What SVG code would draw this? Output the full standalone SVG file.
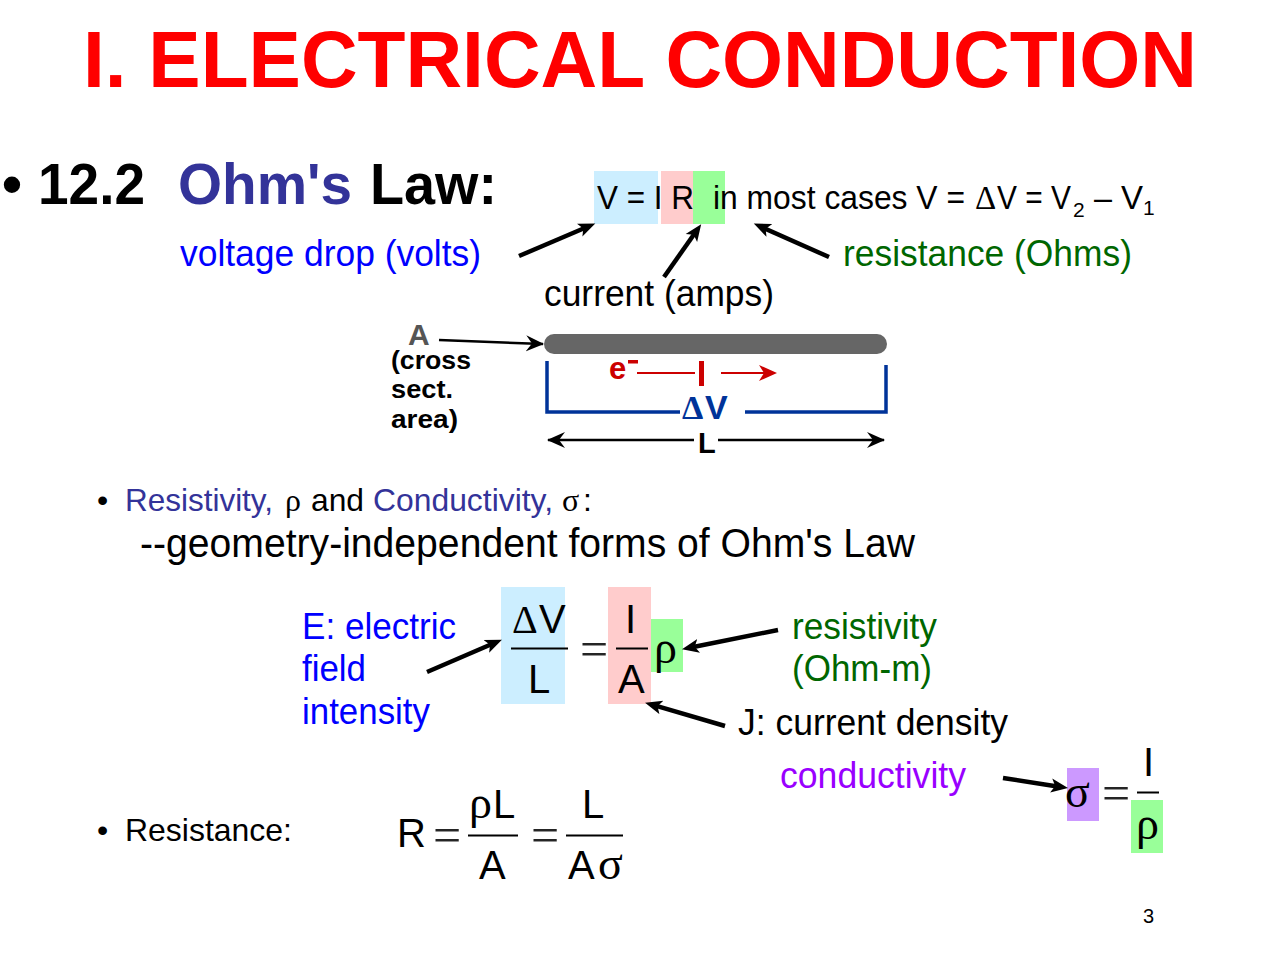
<svg xmlns="http://www.w3.org/2000/svg" width="1280" height="960" viewBox="0 0 1280 960">
<style>
text{font-family:"Liberation Sans",Arial,sans-serif;fill:#000}
.g{font-family:"Liberation Serif","Times New Roman",serif}
.b{font-weight:bold}
.t36{font-size:36px}.t40{font-size:40px}.t33{font-size:33px}.t32{font-size:32px}
.rho{font-size:46px}.eq{font-size:50px;font-weight:300;opacity:.85}
.blue{fill:#0000ff}.navy{fill:#333399}.green{fill:#006600}.purple{fill:#9900ff}
.wb{fill:#003399}.wr{fill:#cc0000}
.arr{stroke:#000;stroke-width:4.5;fill:none;marker-end:url(#ah)}
.thin{stroke:#000;stroke-width:2.500;fill:none}
.frac{stroke:#000;stroke-width:2}
</style>
<defs>
<marker id="ah" markerUnits="userSpaceOnUse" markerWidth="18" markerHeight="16" refX="8" refY="7.500" orient="auto"><path d="M0 0.500L17 7.500L0 14.500L4 7.500Z" fill="#000"/></marker>
<marker id="sm" markerUnits="userSpaceOnUse" markerWidth="20" markerHeight="18" refX="17" refY="8" orient="auto-start-reverse"><path d="M0 0L18 8L0 16L6 8Z" fill="#000"/></marker>
</defs>
<rect width="1280" height="960" fill="#fff"/>
<g id="title"><text x="83" y="87" class="b" font-size="80" textLength="1114" lengthAdjust="spacingAndGlyphs" style="fill:#ff0000">I. ELECTRICAL CONDUCTION</text></g>
<g id="heading">
<text x="2" y="204" class="b" font-size="57">•</text>
<text x="38" y="204" class="b" font-size="57" textLength="107" lengthAdjust="spacingAndGlyphs">12.2</text>
<text x="178" y="204" class="b navy" font-size="57" textLength="174" lengthAdjust="spacingAndGlyphs">Ohm's</text>
<text x="370" y="204" class="b" font-size="57" textLength="127" lengthAdjust="spacingAndGlyphs">Law:</text>
</g>
<g id="ohm-equation">
<rect x="594" y="171" width="64" height="53" fill="#cceeff"/>
<rect x="661" y="171" width="32" height="53" fill="#ffcccc"/>
<rect x="693" y="171" width="32" height="53" fill="#99ff99"/>
<text x="597" y="209" class="t33" textLength="97" lengthAdjust="spacingAndGlyphs">V = I R</text>
<text x="713" y="209" class="t33" textLength="252" lengthAdjust="spacingAndGlyphs">in most cases V =</text>
<text x="975" y="209" class="g t33">Δ</text>
<text x="997" y="209" class="t33" textLength="74" lengthAdjust="spacingAndGlyphs">V = V</text>
<text x="1073" y="217" font-size="21">2</text>
<text x="1094" y="209" class="t33" textLength="18" lengthAdjust="spacingAndGlyphs">–</text>
<text x="1121" y="209" class="t33">V</text>
<text x="1143" y="215" font-size="21">1</text>
</g>
<g id="label-voltage"><text x="180" y="266" class="t36 blue" textLength="301" lengthAdjust="spacingAndGlyphs">voltage drop (volts)</text></g>
<g id="label-resistance"><text x="843" y="266" class="t36 green" textLength="289" lengthAdjust="spacingAndGlyphs">resistance (Ohms)</text></g>
<g id="label-current"><text x="544" y="306" class="t36" textLength="230" lengthAdjust="spacingAndGlyphs">current (amps)</text></g>
<g id="wire">
<rect x="544" y="334" width="343" height="20" rx="10" fill="#666"/>
<text x="408" y="345" class="b" font-size="30" style="fill:#555">A</text>
<text x="391" y="369" class="b" font-size="25" textLength="80" lengthAdjust="spacingAndGlyphs">(cross</text>
<text x="391" y="398" class="b" font-size="25" textLength="62" lengthAdjust="spacingAndGlyphs">sect.</text>
<text x="391" y="428" class="b" font-size="25" textLength="67" lengthAdjust="spacingAndGlyphs">area)</text>
<text x="609" y="379" class="b wr" font-size="31">e</text>
<rect x="628" y="360" width="10" height="3.500" fill="#cc0000"/>
<line x1="637" y1="373" x2="695" y2="373" stroke="#cc0000" stroke-width="2"/>
<line x1="701.500" y1="361" x2="701.500" y2="386" stroke="#cc0000" stroke-width="5"/>
<line x1="721" y1="373" x2="770" y2="373" stroke="#cc0000" stroke-width="2"/>
<path d="M759 365L777 373L759 381L764 373Z" fill="#cc0000"/>
<path d="M547 361V412H680M745 412H886V365" fill="none" stroke="#003399" stroke-width="3.500"/>
<text x="682" y="419" class="g b wb" font-size="34">Δ</text>
<text x="705" y="419" class="b wb" font-size="34">V</text>
<line x1="548" y1="440" x2="694" y2="440" class="thin" marker-start="url(#sm)"/>
<line x1="718" y1="440" x2="884" y2="440" class="thin" marker-end="url(#sm)"/>
<text x="698" y="453" class="b" font-size="29">L</text>
</g>
<g id="resistivity-text">
<text x="97" y="511" class="t32">•</text>
<text x="125" y="511" class="t32 navy" textLength="148" lengthAdjust="spacingAndGlyphs">Resistivity,</text>
<text x="285" y="511" class="g t32">ρ</text>
<text x="311" y="511" class="t32" textLength="53" lengthAdjust="spacingAndGlyphs">and</text>
<text x="373" y="511" class="t32 navy" textLength="180" lengthAdjust="spacingAndGlyphs">Conductivity,</text>
<text x="562" y="511" class="g t32">σ</text>
<text x="583" y="511" class="t32">:</text>
<text x="140" y="557" font-size="40" textLength="775" lengthAdjust="spacingAndGlyphs">--geometry-independent forms of Ohm's Law</text>
</g>
<g id="label-e">
<text x="302" y="639" class="t36 blue" textLength="154" lengthAdjust="spacingAndGlyphs">E: electric</text>
<text x="302" y="681" class="t36 blue" textLength="64" lengthAdjust="spacingAndGlyphs">field</text>
<text x="302" y="724" class="t36 blue" textLength="128" lengthAdjust="spacingAndGlyphs">intensity</text>
</g>
<g id="equation-e">
<rect x="501" y="587" width="64" height="117" fill="#cceeff"/>
<rect x="608" y="587" width="43" height="117" fill="#ffcccc"/>
<rect x="651" y="619" width="32" height="53" fill="#99ff99"/>
<text x="512" y="633" class="g t40">Δ</text><text x="539" y="633" class="t40">V</text>
<line x1="511" y1="648.500" x2="568" y2="648.500" class="frac"/>
<text x="528" y="693" class="t40">L</text>
<text x="580" y="666" class="g eq">=</text>
<text x="625" y="633" class="t40">I</text>
<line x1="616" y1="648.500" x2="648" y2="648.500" class="frac"/>
<text x="618" y="693" class="t40">A</text>
<text x="654" y="663" class="g rho">ρ</text>
</g>
<g id="label-rho"><text x="792" y="639" class="t36 green" textLength="145" lengthAdjust="spacingAndGlyphs">resistivity</text><text x="792" y="681" class="t36 green" textLength="140" lengthAdjust="spacingAndGlyphs">(Ohm-m)</text></g>
<g id="label-j"><text x="738" y="735" class="t36" textLength="270" lengthAdjust="spacingAndGlyphs">J: current density</text></g>
<g id="label-sigma"><text x="780" y="788" class="t36 purple" textLength="186" lengthAdjust="spacingAndGlyphs">conductivity</text></g>
<g id="equation-sigma">
<rect x="1067" y="768" width="32" height="53" fill="#cc99ff"/>
<rect x="1131" y="800" width="32" height="53" fill="#99ff99"/>
<text x="1065" y="807" class="g rho">σ</text>
<text x="1102" y="810" class="g eq">=</text>
<text x="1143" y="776" class="t40">I</text>
<line x1="1137" y1="792.500" x2="1159" y2="792.500" class="frac"/>
<text x="1136" y="839" class="g rho">ρ</text>
</g>
<g id="resistance-text"><text x="97" y="841" class="t32">•</text><text x="125" y="841" class="t32" textLength="167" lengthAdjust="spacingAndGlyphs">Resistance:</text></g>
<g id="equation-r">
<text x="397" y="847" class="t40">R</text>
<text x="433" y="852" class="g eq">=</text>
<text x="469" y="818" class="g rho">ρ</text><text x="493" y="818" class="t40">L</text>
<line x1="468" y1="835.500" x2="518" y2="835.500" class="frac"/>
<text x="479" y="879" class="t40">A</text>
<text x="531" y="852" class="g eq">=</text>
<text x="582" y="818" class="t40">L</text>
<line x1="566" y1="835.500" x2="623" y2="835.500" class="frac"/>
<text x="568" y="879" class="t40">A</text><text x="598" y="879" class="g rho">σ</text>
</g>
<g id="page-number"><text x="1143" y="923" font-size="20">3</text></g>
<g id="connectors">
<line x1="519" y1="256" x2="587" y2="227" class="arr"/>
<line x1="664" y1="277" x2="696" y2="231.500" class="arr"/>
<line x1="829" y1="257" x2="762" y2="227.200" class="arr"/>
<line x1="439" y1="340" x2="543" y2="344" stroke="#000" stroke-width="2.500" marker-end="url(#sm)"/>
<line x1="427" y1="672" x2="493.700" y2="643.200" class="arr"/>
<line x1="778" y1="630" x2="690.800" y2="647.500" class="arr"/>
<line x1="725" y1="726" x2="653.700" y2="705.200" class="arr"/>
<line x1="1003" y1="778" x2="1059.100" y2="786.700" class="arr"/>
</g>
</svg>
